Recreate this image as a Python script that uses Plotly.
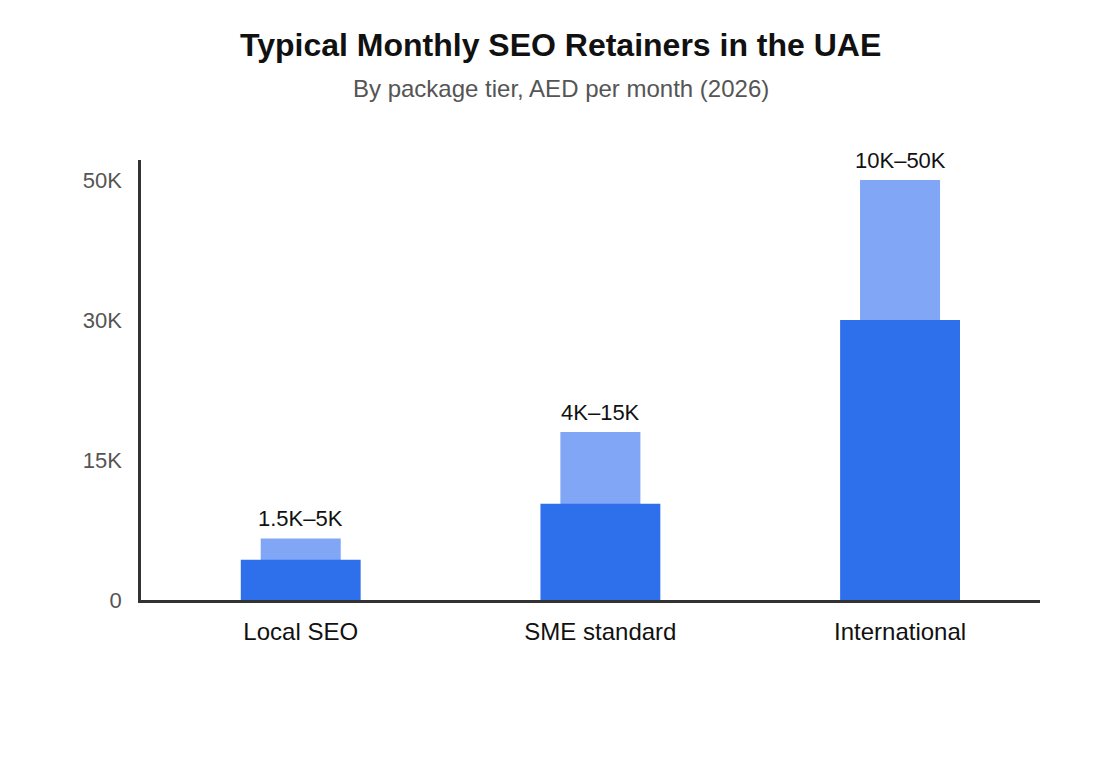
import numpy as np
import plotly.graph_objects as go

categories = ["Local SEO", "SME standard", "International"]
typical_aed = [4300, 10300, 30000]      # dark (typical) bar level
upper_aed = [6600, 18000, 50000]        # light (upper) bar level
range_labels = ["1.5K–5K", "4K–15K", "10K–50K"]
tick_values_aed = [0, 15000, 30000, 50000]
tick_labels = ["0", "15K", "30K", "50K"]

# axis uses evenly spaced ticks for the listed values (piecewise scale)
tick_pos = list(range(len(tick_values_aed)))
def to_axis(v):
    return np.interp(v, tick_values_aed, tick_pos)

FONT = "Liberation Sans, Arial, sans-serif"

fig = go.Figure()
fig.add_trace(go.Bar(
    x=categories, y=to_axis(upper_aed), width=0.267,
    marker=dict(color="#80A6F5", line=dict(width=0)),
    hoverinfo="skip", showlegend=False,
))
fig.add_trace(go.Bar(
    x=categories, y=to_axis(typical_aed), width=0.4,
    marker=dict(color="#2E6FEB", line=dict(width=0)),
    hoverinfo="skip", showlegend=False,
))

annotations = [
    dict(x=c, y=float(yv), xref="x", yref="y", text=t, showarrow=False,
         yanchor="bottom", yshift=5,
         font=dict(family=FONT, size=22, color="#111111"))
    for c, yv, t in zip(categories, to_axis(upper_aed), range_labels)
]
annotations += [
    dict(x=0.4667, y=1, xref="paper", yref="paper", yshift=115, xanchor="center",
         yanchor="middle", showarrow=False,
         text="<b>Typical Monthly SEO Retainers in the UAE</b>",
         font=dict(family=FONT, size=32, color="#111111")),
    dict(x=0.4667, y=1, xref="paper", yref="paper", yshift=72, xanchor="center",
         yanchor="middle", showarrow=False,
         text="By package tier, AED per month (2026)",
         font=dict(family=FONT, size=24, color="#555555")),
]

fig.update_layout(
    width=1120, height=760,
    barmode="overlay",
    plot_bgcolor="white", paper_bgcolor="white",
    margin=dict(l=133, r=88, t=152, b=168),
    font=dict(family=FONT),
    annotations=annotations,
    xaxis=dict(
        showline=True, linecolor="#333333", linewidth=2.5,
        ticks="", showgrid=False, zeroline=False,
        ticklabelstandoff=8,
        tickfont=dict(family=FONT, size=24, color="#111111"),
        range=[-0.533, 2.467],
    ),
    yaxis=dict(
        showline=True, linecolor="#333333", linewidth=2.5,
        tickvals=tick_pos, ticktext=tick_labels, ticks="",
        ticklabelstandoff=12,
        showgrid=False, zeroline=False,
        range=[0, 3.143],
        tickfont=dict(family=FONT, size=22, color="#555555"),
    ),
)
fig.write_html("out.html")
